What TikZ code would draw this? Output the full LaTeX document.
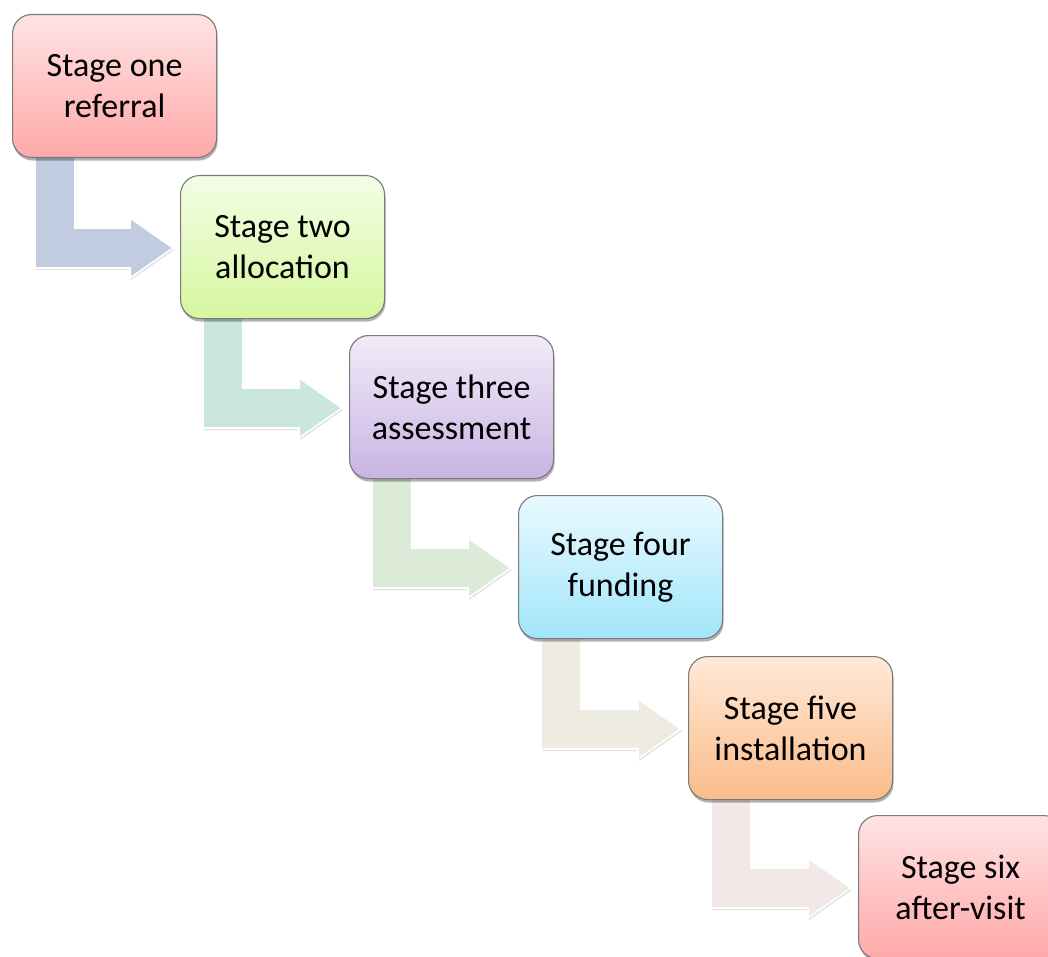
\documentclass[tikz,border=0pt]{standalone}
\usepackage{fontspec}
\setmainfont{Carlito}
\usetikzlibrary{calc,shadows,backgrounds}

% stage box fills (top / bottom of the vertical gradient)
\definecolor{pinkT}{HTML}{FFE3E3}\definecolor{pinkB}{HTML}{FFA9A9}
\definecolor{greenT}{HTML}{F3FDE6}\definecolor{greenB}{HTML}{D6F79E}
\definecolor{purpT}{HTML}{F1EBF8}\definecolor{purpB}{HTML}{C8B4E3}
\definecolor{cyanT}{HTML}{E9F9FF}\definecolor{cyanB}{HTML}{A2E6FA}
\definecolor{orngT}{HTML}{FFE9D9}\definecolor{orngB}{HTML}{FBBC88}
\definecolor{edgeGray}{HTML}{7A7A7A}
% bent-arrow fills
\definecolor{arA}{HTML}{C2CCE0}
\definecolor{arB}{HTML}{CBE5DF}
\definecolor{arC}{HTML}{DCEBD8}
\definecolor{arD}{HTML}{EEECE0}
\definecolor{arE}{HTML}{F3E8E8}

\tikzset{
  stagebox/.style 2 args={
    draw=edgeGray, line width=1.1pt, rounded corners=19pt,
    top color=#1, bottom color=#2,
    minimum width=204pt, minimum height=143pt, anchor=north west,
    align=center, inner sep=0pt,
    font=\fontsize{34}{41}\selectfont,
    drop shadow={shadow xshift=1pt, shadow yshift=-3pt, opacity=0.3, fill=black}
  },
  bentarrow/.style={
    fill=#1, draw=white, line width=1.6pt, line join=miter,
    drop shadow={shadow xshift=1pt, shadow yshift=-2pt, opacity=0.12, fill=black}
  }
}

% bent arrow from the bottom of one stage to the left side of the next
\newcommand{\stagelink}[3]{%
  \filldraw[bentarrow=#3]
    ($(#1.south west)+(23,-4)$) -- ($(#1.south west)+(63,-4)$)
    |- ($(#2.north west)+(-50,53)$)
    -- ($(#2.north west)+(-50,43)$)
    -- ($(#2.north west)+(-7,73)$)
    -- ($(#2.north west)+(-50,103)$)
    -- ($(#2.north west)+(-50,93)$)
    -| cycle;
}

\begin{document}
\begin{tikzpicture}[x=1pt, y=-1pt]
  \useasboundingbox (0,0) rectangle (1048,957);

  \node[stagebox={pinkT}{pinkB}]   (s1) at (12,14)   {Stage one\\referral};
  \node[stagebox={greenT}{greenB}] (s2) at (180,175) {Stage two\\allocation};
  \node[stagebox={purpT}{purpB}]   (s3) at (349,335) {Stage three\\assessment};
  \node[stagebox={cyanT}{cyanB}]   (s4) at (518,495) {Stage four\\funding};
  \node[stagebox={orngT}{orngB}]   (s5) at (688,656) {Stage five\\installation};
  \node[stagebox={pinkT}{pinkB}]   (s6) at (858,815) {Stage six\\after-visit};

  \begin{pgfonlayer}{background}
    \fill[white] (0,0) rectangle (1048,957);
    \stagelink{s1}{s2}{arA}
    \stagelink{s2}{s3}{arB}
    \stagelink{s3}{s4}{arC}
    \stagelink{s4}{s5}{arD}
    \stagelink{s5}{s6}{arE}
  \end{pgfonlayer}
\end{tikzpicture}
\end{document}
